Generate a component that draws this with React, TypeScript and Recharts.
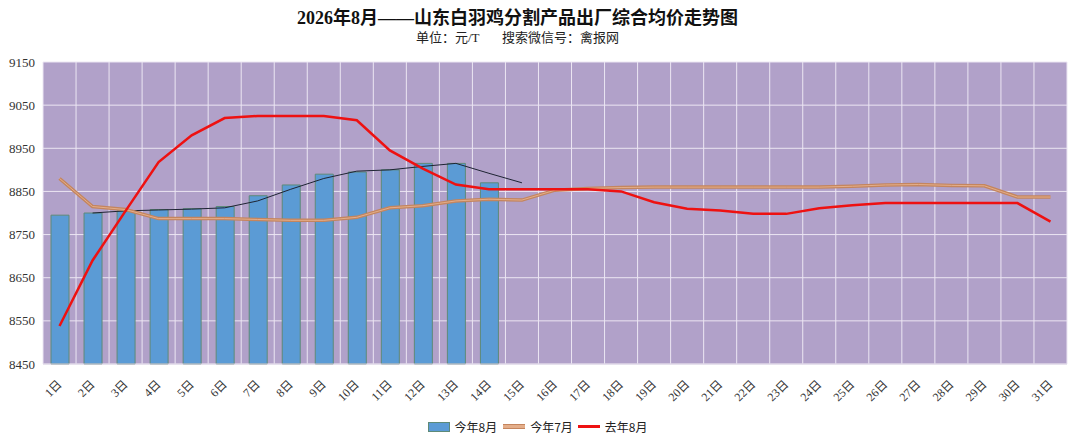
import React from 'react';
import { ComposedChart, Bar, Line, XAxis, YAxis, CartesianGrid } from 'recharts';

const days = ['1日','2日','3日','4日','5日','6日','7日','8日','9日','10日','11日','12日','13日','14日','15日','16日','17日','18日','19日','20日','21日','22日','23日','24日','25日','26日','27日','28日','29日','30日','31日'];
const thisAug = [8795, 8800, 8805, 8808, 8810, 8815, 8840, 8865, 8890, 8895, 8900, 8915, 8915, 8870];
const trendAug = [null, 8800, 8805, 8807, 8809, 8812, 8828, 8855, 8880, 8897, 8900, 8908, 8915, 8892, 8870];
const thisJul = [8880, 8815, 8808, 8787, 8787, 8787, 8785, 8783, 8783, 8790, 8812, 8817, 8828, 8832, 8830, 8853, 8857, 8859, 8860, 8860, 8860, 8860, 8860, 8860, 8862, 8865, 8866, 8864, 8863, 8837, 8837];
const lastAug = [8538, 8690, 8805, 8918, 8980, 9020, 9025, 9025, 9025, 9015, 8945, 8903, 8866, 8855, 8855, 8855, 8855, 8850, 8825, 8810, 8806, 8798, 8798, 8811, 8818, 8823, 8823, 8823, 8823, 8823, 8780];
const yTicks = [8450, 8550, 8650, 8750, 8850, 8950, 9050, 9150];

const data = days.map((d, i) => ({
  day: d,
  thisAug: i < thisAug.length ? thisAug[i] : null,
  trend: i < trendAug.length ? trendAug[i] : null,
  thisJul: thisJul[i],
  lastAug: lastAug[i],
}));

const serif = "'Liberation Serif', 'Noto Sans CJK SC', serif";
const sans = "'Noto Sans CJK SC', 'Liberation Sans', sans-serif";

const XTick = (props: any) => {
  const { x, y, payload } = props;
  return (
    <text
      x={x + 3}
      y={y + 13}
      transform={`rotate(-45, ${x + 3}, ${y + 13})`}
      textAnchor="end"
      fontSize={12}
      fontFamily={serif}
      fill="#333"
    >
      {payload.value}
    </text>
  );
};

const vGen = ({ offset }: any) => {
  const n = days.length;
  return Array.from({ length: n + 1 }, (_, i) => offset.left + (i * offset.width) / n);
};

export default function App() {
  return (
    <div style={{ position: 'absolute', left: 0, top: 0, width: 1080, height: 447, background: '#fff' }}>
      <div style={{ position: 'absolute', left: 0, width: 1035, top: 7, textAlign: 'center', fontFamily: serif, fontWeight: 'bold', fontSize: 18, color: '#111', lineHeight: '22px' }}>
        2026年8月——山东白羽鸡分割产品出厂综合均价走势图
      </div>
      <div style={{ position: 'absolute', left: 0, width: 1035, top: 30, textAlign: 'center', fontFamily: serif, fontSize: 13, color: '#222', lineHeight: '16px', whiteSpace: 'pre' }}>
        {'单位：元/T       搜索微信号：禽报网'}
      </div>
      <ComposedChart width={1080} height={447} data={data} margin={{ top: 62, right: 13, bottom: 38, left: 0 }}>
        <CartesianGrid fill="#B1A1C9" stroke="#ECE6F3" strokeWidth={1} verticalCoordinatesGenerator={vGen} />
        <XAxis dataKey="day" interval={0} tickLine={false} axisLine={{ stroke: '#D8D0E2' }} height={45} tick={<XTick />} />
        <YAxis domain={[8450, 9150]} ticks={yTicks} width={43} tickLine={false} axisLine={false} tick={{ fontSize: 13, fontFamily: serif, fill: '#333' }} />
        <Bar dataKey="thisAug" barSize={18} fill="#5B9BD5" stroke="#5E8A78" strokeWidth={1} isAnimationActive={false} />
        <Line dataKey="trend" stroke="#1E2433" strokeWidth={1} dot={false} isAnimationActive={false} />
        <Line dataKey="thisJul" stroke="#C4855E" strokeWidth={3.5} dot={false} isAnimationActive={false} />
        <Line dataKey="thisJul" stroke="#E4AE8A" strokeWidth={1} dot={false} isAnimationActive={false} legendType="none" />
        <Line dataKey="lastAug" stroke="#EE1111" strokeWidth={2.5} dot={false} isAnimationActive={false} />
      </ComposedChart>
      <div style={{ position: 'absolute', left: 0, width: 1080, top: 418, display: 'flex', justifyContent: 'center', alignItems: 'center', fontFamily: sans, fontSize: 12, color: '#222' }}>
        <div style={{ display: 'flex', alignItems: 'center', marginLeft: -4 }}>
          <span style={{ display: 'inline-block', width: 20, height: 8, background: '#5B9BD5', border: '1px solid #5E8A78', marginRight: 4 }} />
          <span>今年8月</span>
          <span style={{ display: 'inline-block', width: 22, height: 3, background: '#E4AE8A', borderTop: '1px solid #C4855E', borderBottom: '1px solid #C4855E', margin: '0 5px 0 6px' }} />
          <span>今年7月</span>
          <span style={{ display: 'inline-block', width: 22, height: 3, background: '#EE1111', margin: '0 5px 0 5px' }} />
          <span>去年8月</span>
        </div>
      </div>
    </div>
  );
}
